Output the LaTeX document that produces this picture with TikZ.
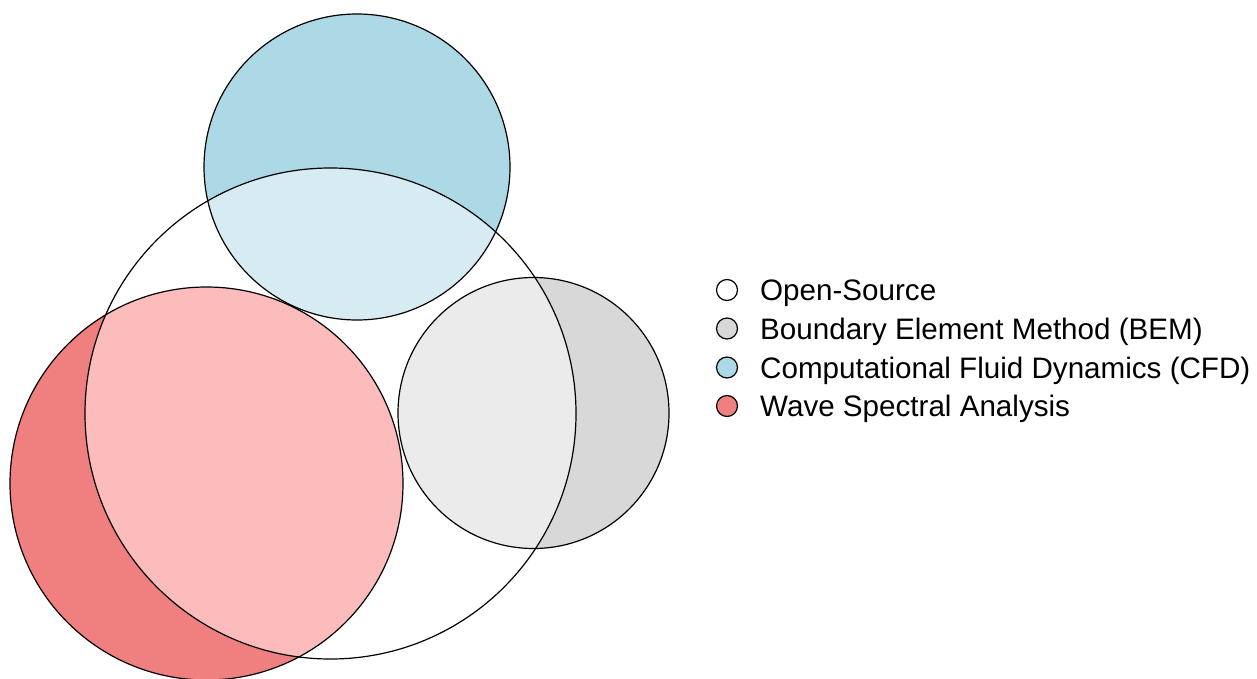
\documentclass[tikz,border=0pt]{standalone}
\usepackage{fontspec}
\setmainfont{Liberation Sans}
\definecolor{cfdblue}{HTML}{ADD8E6}
\definecolor{cfdlight}{HTML}{D6EBF2}
\definecolor{bemgray}{HTML}{D8D8D8}
\definecolor{bemlight}{HTML}{EBEBEB}
\definecolor{wavered}{HTML}{F08080}
\definecolor{wavelight}{HTML}{FCBCBC}
\tikzset{
  setline/.style={draw=black, line width=1.2pt},
  legcirc/.style={circle, draw=black, line width=1.2pt, minimum size=21pt, inner sep=0pt},
  legtext/.style={anchor=base west, inner sep=0pt, font=\fontsize{29.6}{34}\selectfont},
}
\begin{document}
\begin{tikzpicture}[x=1pt,y=-1pt]
\useasboundingbox (0,0) rectangle (1257,679);
% filled sets
\fill[cfdblue] (357,167) circle (153);
\fill[bemgray] (533.5,413) circle (135.5);
\fill[wavered] (206.5,483.5) circle (196.5);
\begin{scope}
  \clip (330.5,413.5) circle (245.5);
  \fill[cfdlight] (357,167) circle (153);
  \fill[bemlight] (533.5,413) circle (135.5);
  \fill[wavelight] (206.5,483.5) circle (196.5);
\end{scope}
% outlines
\draw[setline] (357,167) circle (153);
\draw[setline] (533.5,413) circle (135.5);
\draw[setline] (206.5,483.5) circle (196.5);
\draw[setline] (330.5,413.5) circle (245.5);
% legend
\node[legcirc, fill=white] (l1) at (727,290) {};
\node[legcirc, fill=bemgray] (l2) at (727,328.5) {};
\node[legcirc, fill=cfdblue] (l3) at (727,367.5) {};
\node[legcirc, fill=wavered] (l4) at (727,406) {};
\node[legtext] (t1) at (760,300.6) {Open-Source};
\node[legtext] (t2) at (760,339.1) {Boundary Element Method (BEM)};
\node[legtext] (t3) at (760,378.1) {Computational Fluid Dynamics (CFD)};
\node[legtext] (t4) at (760,416.6) {Wave Spectral Analysis};
\end{tikzpicture}
\end{document}
